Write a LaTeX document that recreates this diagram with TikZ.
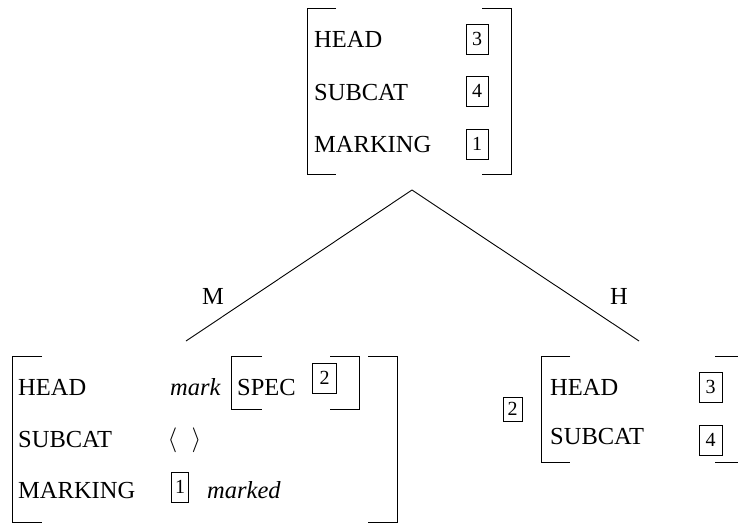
\documentclass[tikz,border=0pt]{standalone}
\usepackage{fontspec}
\setmainfont{Liberation Serif}
\begin{document}
\begin{tikzpicture}[x=1pt,y=-1pt,
  lbl/.style={anchor=base west,inner sep=0pt,font=\fontsize{24.5}{29}\selectfont},
  ital/.style={lbl,font=\fontsize{24.5}{29}\selectfont\itshape},
  tag/.style={draw,line width=0.8pt,inner sep=0pt,minimum width=22pt,minimum height=30pt,font=\fontsize{20}{24}\selectfont},
  ang/.style={inner sep=0pt,font=\fontsize{33}{36}\selectfont},
  brk/.style={line width=1pt},
  edge/.style={line width=0.9pt}]
\useasboundingbox (0,0) rectangle (738,523);
% ---------- top AVM ----------
\draw[brk] (336,8)--(307,8)--(307,174)--(336,174);
\draw[brk] (482,8)--(511,8)--(511,174)--(482,174);
\node[lbl] (th) at (314,47) {HEAD};
\node[lbl] (ts) at (314,100) {SUBCAT};
\node[lbl] (tm) at (314,152) {MARKING};
\node[tag] (t3) at (477,39) {3};
\node[tag] (t4) at (477,91) {4};
\node[tag] (t1) at (477,144) {1};
% ---------- tree ----------
\coordinate (apex) at (412,190);
\coordinate (lend) at (186,341);
\coordinate (rend) at (639,341);
\draw[edge] (apex)--(lend);
\draw[edge] (apex)--(rend);
\node[lbl] (mlab) at (202,304) {M};
\node[lbl] (hlab) at (610,304) {H};
% ---------- bottom left AVM ----------
\draw[brk] (42,356)--(12,356)--(12,522)--(42,522);
\draw[brk] (368,356)--(397,356)--(397,522)--(368,522);
\node[lbl] (lh) at (18,395) {HEAD};
\node[lbl] (ls) at (18,447) {SUBCAT};
\node[lbl] (lm) at (18,498) {MARKING};
\node[ital] (mark) at (170,395) {mark};
\draw[brk] (262,356)--(231,356)--(231,409)--(262,409);
\draw[brk] (330,356)--(359,356)--(359,409)--(330,409);
\node[lbl] (spec) at (237,395) {SPEC};
\node[tag,minimum width=24pt] (l2) at (324.5,378) {2};
\node[ang] (la) at (172.5,440) {$\langle$};
\node[ang] (ra) at (196.5,440) {$\rangle$};
\node[tag,minimum width=17pt] (l1) at (180,487) {1};
\node[ital] (marked) at (207,498) {marked};
% ---------- bottom right AVM ----------
\node[tag,minimum width=19pt,minimum height=24pt] (r2) at (512.5,409) {2};
\draw[brk] (570,356)--(541,356)--(541,462)--(570,462);
\draw[brk] (715,356)--(740,356)--(740,462)--(715,462);
\node[lbl] (rh) at (550,395) {HEAD};
\node[lbl] (rs) at (550,444) {SUBCAT};
\node[tag,minimum width=23pt] (r3) at (710.5,387) {3};
\node[tag,minimum width=23pt] (r4) at (710.5,440) {4};
\end{tikzpicture}
\end{document}
